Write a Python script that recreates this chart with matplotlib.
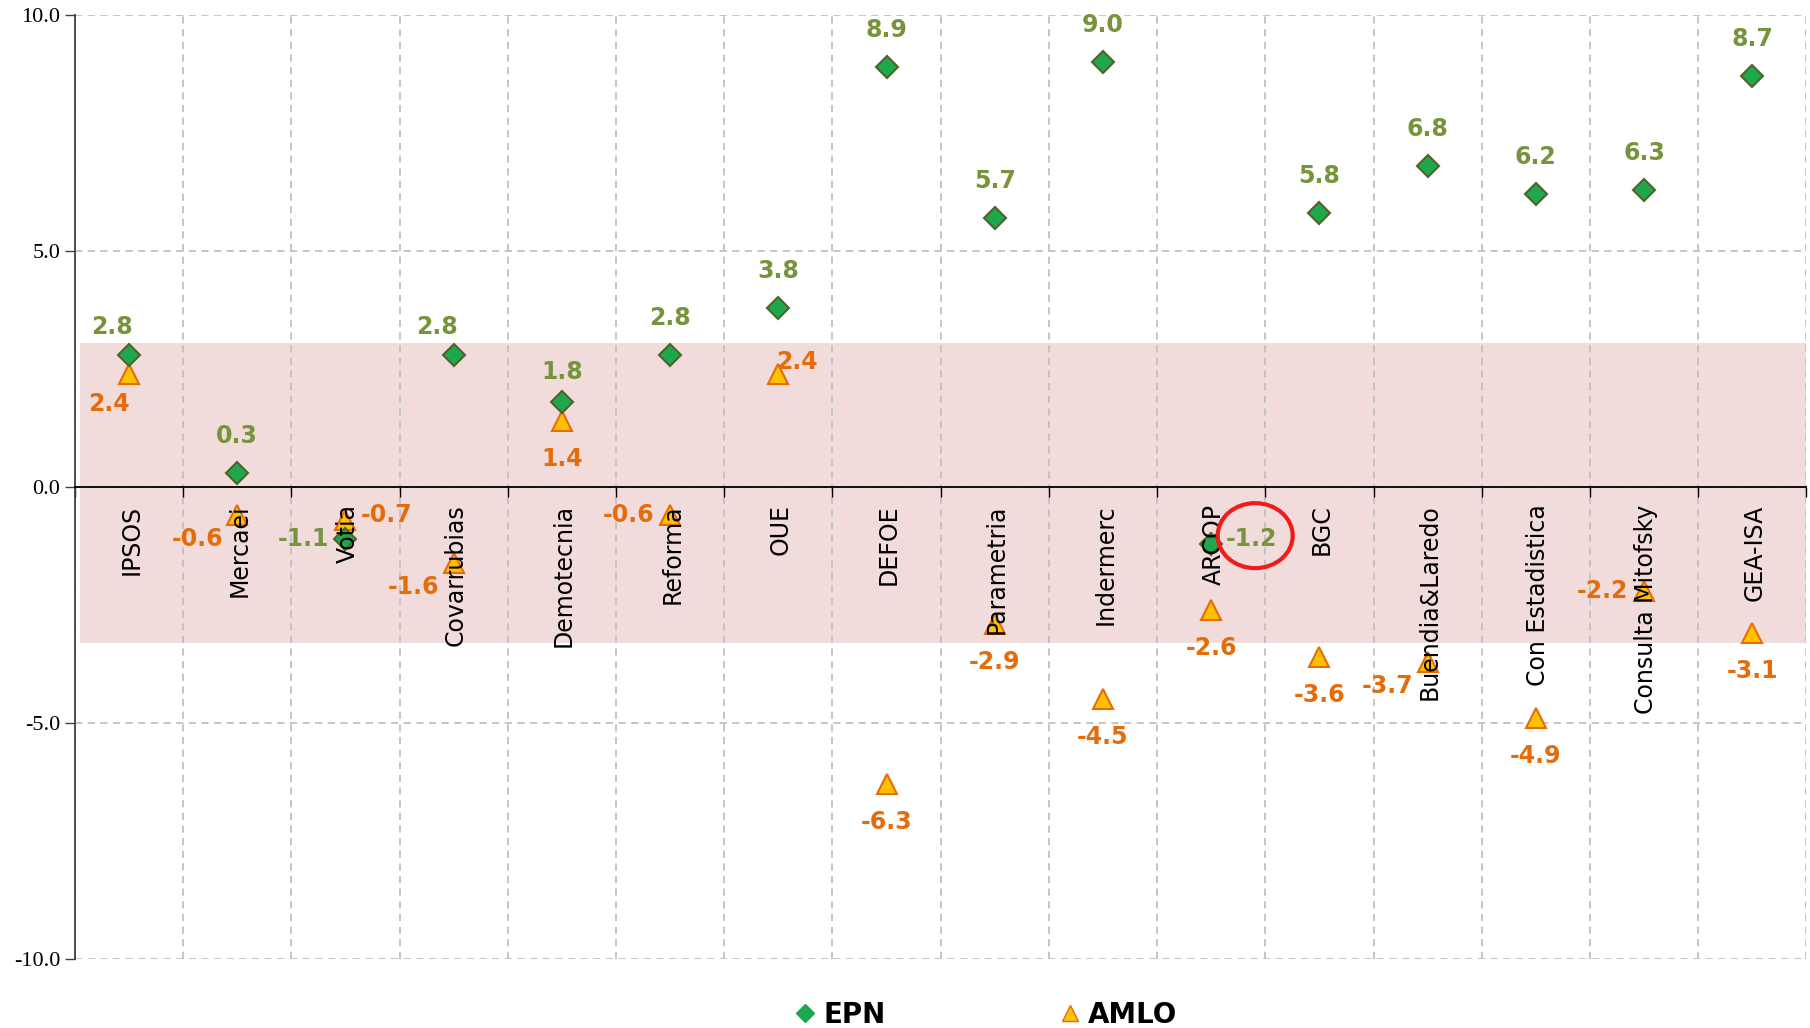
import numpy as np
import matplotlib
matplotlib.use('Agg')
import matplotlib.pyplot as plt
from matplotlib.lines import Line2D
from matplotlib.patches import Ellipse
from matplotlib.transforms import ScaledTranslation

# Pollster data (difference from result)
pollsters = ['IPSOS', 'Mercaei', 'Votia', 'Covarrubias', 'Demotecnia', 'Reforma', 'OUE',
             'DEFOE', 'Parametria', 'Indermerc', 'ARCOP', 'BGC', 'Buendia&Laredo',
             'Con Estadistica', 'Consulta Mitofsky', 'GEA-ISA']
epn = [2.8, 0.3, -1.1, 2.8, 1.8, 2.8, 3.8, 8.9, 5.7, 9.0, -1.2, 5.8, 6.8, 6.2, 6.3, 8.7]
amlo = [2.4, -0.6, -0.7, -1.6, 1.4, -0.6, 2.4, -6.3, -2.9, -4.5, -2.6, -3.6, -3.7, -4.9, -2.2, -3.1]
band_low, band_high = -3.3, 3.05
highlight = 'ARCOP'

# where each data label goes relative to its marker
epn_pos = ['aboveleft', 'above', 'left', 'aboveleft', 'abovelow', 'above', 'above', 'above', 'above',
           'above', 'right', 'above', 'above', 'above', 'above', 'above']
amlo_pos = ['belowleft', 'lowleft', 'right', 'lowleft', 'below', 'left', 'upright', 'below',
            'below', 'below', 'below', 'below', 'lowleft', 'below', 'left', 'below']

# offsets in pixels (dpi 100), horizontal alignment
offsets = {'above': (0, 37, 'center'), 'aboveleft': (-17, 28, 'center'),
           'abovelow': (0, 30, 'center'),
           'below': (0, -38, 'center'), 'left': (-42, 0, 'center'),
           'lowleft': (-40, -24, 'center'), 'belowleft': (-20, -30, 'center'),
           'right': (15, 5, 'left'), 'upright': (19, 12, 'center')}

green_txt = '#77933c'
orange_txt = '#e46c0a'

fig = plt.figure(figsize=(18.1, 10.28), dpi=100)
ax = fig.add_axes([0.0414, 0.0671, 0.9566, 0.9183])

x = np.arange(len(pollsters)) + 0.5
ax.set_xlim(0, len(pollsters))
ax.set_ylim(-10, 10)

ax.axhspan(band_low, band_high, xmin=0.003, xmax=1, color='#f2dcdb', zorder=0.2, lw=0)

ax.plot(x, epn, ls='none', marker='D', ms=11.5, mfc='#1ea84e', mec='#4f6228', mew=1.5, zorder=4)
ax.plot(x, amlo, ls='none', marker='^', ms=15, mfc='#ffc000', mec='#e46c0a', mew=1.5, zorder=3)

for xi, v, p in zip(x, epn, epn_pos):
    dx, dy, ha = offsets[p]
    ax.annotate('%.1f' % v, (xi, v), xytext=(dx * 0.72, dy * 0.72), textcoords='offset points',
                ha=ha, va='center', color=green_txt, fontsize=17, fontweight='bold', zorder=5)
for xi, v, p in zip(x, amlo, amlo_pos):
    dx, dy, ha = offsets[p]
    ax.annotate('%.1f' % v, (xi, v), xytext=(dx * 0.72, dy * 0.72), textcoords='offset points',
                ha=ha, va='center', color=orange_txt, fontsize=17, fontweight='bold', zorder=5)

# category names written inside the plot, just under the zero line
for xi, name in zip(x, pollsters):
    ax.text(xi + 0.02, -0.37, name, rotation=90, ha='center', va='top', fontsize=17,
            color='black', zorder=4)

# red circle around the highlighted label
hi = pollsters.index(highlight)
trans = fig.dpi_scale_trans + ScaledTranslation(x[hi], epn[hi], ax.transData)
ax.add_patch(Ellipse((0.44, 0.08), 0.75, 0.65, transform=trans, fill=False,
                     edgecolor='#ee1c1c', lw=3, zorder=6, clip_on=False))

# axes styling
ax.set_xticks(np.arange(len(pollsters) + 1))
ax.set_xticklabels([])
ax.set_yticks([-10, -5, 0, 5, 10])
ax.set_yticklabels(['%.1f' % t for t in [-10, -5, 0, 5, 10]], fontfamily='Liberation Serif', fontsize=16)
ax.tick_params(axis='x', direction='out', length=7, color='black', width=1)
ax.tick_params(axis='y', direction='out', length=7, color='#404040', width=1)
ax.spines['bottom'].set_position(('data', 0))
ax.spines['bottom'].set_color('black')
ax.spines['bottom'].set_linewidth(1.3)
ax.spines['left'].set_color('#404040')
ax.spines['left'].set_linewidth(1.3)
ax.spines['top'].set_visible(False)
ax.spines['right'].set_visible(False)
ax.set_axisbelow(True)
ax.grid(True, color='#c0c0c0', ls=(0, (4, 3)), lw=1.3, zorder=0.5)

handles = [Line2D([], [], ls='none', marker='D', ms=9, mfc='#1ea84e', mec='#1ea84e'),
           Line2D([], [], ls='none', marker='^', ms=12, mfc='#ffc000', mec='#e46c0a')]
fig.legend(handles, ['EPN', 'AMLO'], loc='center', bbox_to_anchor=(0.545, 0.013), ncol=2,
           frameon=False, prop={'weight': 'bold', 'size': 20}, handlelength=0.7,
           handletextpad=0.3, columnspacing=6.3)

plt.savefig('out.png', dpi=100)
